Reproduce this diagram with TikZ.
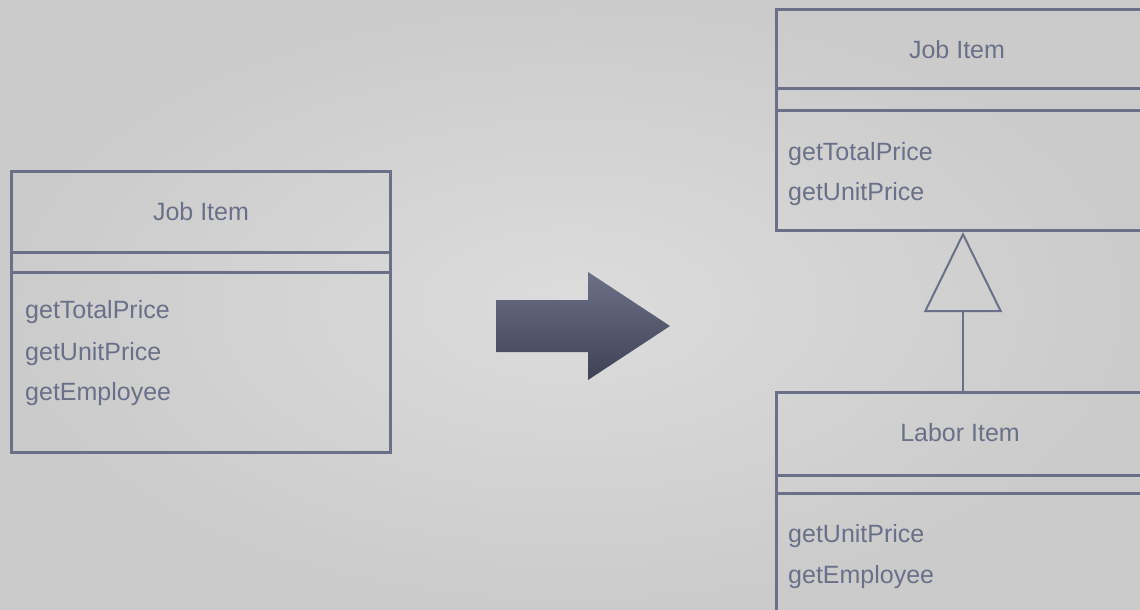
\documentclass[tikz,border=0pt]{standalone}
\usepackage{fontspec}
\setmainfont{Liberation Sans}
\usetikzlibrary{arrows.meta}
\definecolor{umlline}{HTML}{6B7088}
\definecolor{bgcentre}{HTML}{DCDCDC}
\definecolor{bgedge}{HTML}{CBCBCB}
\definecolor{arrowtop}{HTML}{6C7188}
\definecolor{arrowbot}{HTML}{3D4255}
\begin{document}
\begin{tikzpicture}[x=1pt, y=-1pt, line join=miter]
	\tikzset{classbox/.style={draw=umlline, line width=3pt, outer sep=0pt, inner sep=0pt, anchor=north west},
		sepline/.style={draw=umlline, line width=3pt},
		classname/.style={text=umlline, font=\fontsize{25}{25}\selectfont, anchor=base},
		method/.style={text=umlline, font=\fontsize{25}{25}\selectfont, anchor=base west, inner sep=0pt},
		inherit/.style={draw=umlline, line width=2pt, -{Triangle[open, length=80pt, width=78pt]}}
	}
	\useasboundingbox (0,0) rectangle (1140,610);
	\shade[inner color=bgcentre, outer color=bgedge] (0,0) rectangle (1140,610);
	% before
	\node[classbox, minimum width=379pt, minimum height=281pt] (oldjob) at (11,171) {};
	\draw[sepline] (oldjob.west |- 0,252) -- (oldjob.east |- 0,252);
	\draw[sepline] (oldjob.west |- 0,272) -- (oldjob.east |- 0,272);
	\node[classname] (oldjobname) at (201,220) {Job Item};
	\node[method] (oldm1) at (25,318) {getTotalPrice};
	\node[method] (oldm2) at (25,360) {getUnitPrice};
	\node[method] (oldm3) at (25,400) {getEmployee};
	% refactor arrow
	\shade[top color=arrowtop, bottom color=arrowbot] (496,300) -- (588,300) -- (588,272) -- (670,326)
		-- (588,380) -- (588,352) -- (496,352) -- cycle;
	% after
	\node[classbox, minimum width=374pt, minimum height=220pt] (job) at (776,10) {};
	\draw[sepline] (job.west |- 0,88) -- (job.east |- 0,88);
	\draw[sepline] (job.west |- 0,110) -- (job.east |- 0,110);
	\node[classname] (jobname) at (957,59) {Job Item};
	\node[method] (jobm1) at (788,160) {getTotalPrice};
	\node[method] (jobm2) at (788,200) {getUnitPrice};
	\node[classbox, minimum width=374pt, minimum height=240pt] (labor) at (776,392) {};
	\draw[sepline] (labor.west |- 0,475) -- (labor.east |- 0,475);
	\draw[sepline] (labor.west |- 0,493) -- (labor.east |- 0,493);
	\node[classname] (laborname) at (960,441) {Labor Item};
	\node[method] (laborm1) at (788,542) {getUnitPrice};
	\node[method] (laborm2) at (788,583) {getEmployee};
	\coordinate (laborup) at (963,392);
	\coordinate (jobdown) at (963,232);
	\draw[inherit] (laborup) -- (jobdown);
\end{tikzpicture}
\end{document}
